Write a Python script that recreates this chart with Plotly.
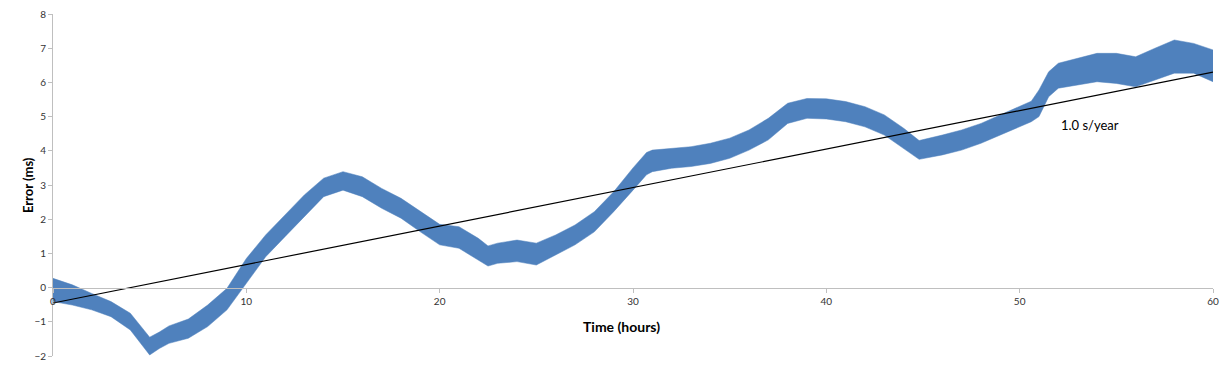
import plotly.graph_objects as go

# Hours and the upper / lower edges of the oscillating error band (ms)
hours = [0, 1, 2, 3, 4, 5, 5.5, 6, 7, 8, 9, 10, 11, 12, 13, 14, 15, 16, 17, 18, 19, 20,
         21, 22, 22.5, 23, 24, 25, 26, 27, 28, 29, 30, 30.7, 31, 32, 33, 34, 35, 36, 37,
         38, 39, 40, 41, 42, 43, 44, 44.8, 46, 47, 48, 49, 50, 50.6, 51, 51.5, 52, 53,
         54, 55, 56, 57, 58, 59, 60]
upper = [0.27, 0.08, -0.17, -0.41, -0.75, -1.45, -1.3, -1.12, -0.92, -0.51, -0.02, 0.85,
         1.54, 2.12, 2.71, 3.2, 3.39, 3.24, 2.9, 2.61, 2.22, 1.85,
         1.78, 1.44, 1.22, 1.3, 1.39, 1.3, 1.54, 1.83, 2.22, 2.8, 3.5, 3.95, 4.02, 4.07,
         4.12, 4.22, 4.37, 4.61, 4.95,
         5.39, 5.53, 5.52, 5.44, 5.29, 5.05, 4.66, 4.3, 4.46, 4.61, 4.8, 5.05, 5.29, 5.45,
         5.78, 6.31, 6.56, 6.7,
         6.85, 6.85, 6.75, 7.0, 7.24, 7.14, 6.95]
lower = [-0.41, -0.51, -0.65, -0.85, -1.24, -1.97, -1.78, -1.63, -1.48, -1.14, -0.65, 0.12,
         0.9, 1.49, 2.07, 2.66, 2.85, 2.66, 2.32, 2.03, 1.63, 1.25,
         1.15, 0.81, 0.63, 0.71, 0.76, 0.66, 0.95, 1.25, 1.63, 2.22, 2.85, 3.3, 3.39, 3.49,
         3.54, 3.63, 3.78, 4.02, 4.32,
         4.8, 4.95, 4.93, 4.85, 4.7, 4.46, 4.07, 3.75, 3.88, 4.02, 4.22, 4.46, 4.7, 4.85,
         5.0, 5.58, 5.83, 5.92,
         6.02, 5.97, 5.87, 6.07, 6.27, 6.27, 6.02]

# Linear trend (1.0 s/year)
trend_x = [0, 60]
trend_y = [-0.45, 6.3]

x_ticks = [0, 10, 20, 30, 40, 50, 60]
y_ticks = [-2, -1, 0, 1, 2, 3, 4, 5, 6, 7, 8]

band_color = "#4f81bd"
font_family = "Lato, 'Open Sans', sans-serif"

fig = go.Figure()
fig.add_trace(go.Scatter(x=hours, y=lower, mode="lines", line=dict(width=0.5, color=band_color),
                         showlegend=False, hoverinfo="skip"))
fig.add_trace(go.Scatter(x=hours, y=upper, mode="lines", line=dict(width=0.5, color=band_color),
                         fill="tonexty", fillcolor=band_color, showlegend=False))
fig.add_trace(go.Scatter(x=trend_x, y=trend_y, mode="lines", line=dict(width=1.2, color="black"),
                         showlegend=False))

fig.add_annotation(x=53.65, y=4.75, text="1.0 s/year", showarrow=False,
                   xanchor="center", yanchor="middle",
                   font=dict(family=font_family, size=13, color="black"))

# axis titles as annotations for exact placement
fig.add_annotation(xref="paper", yref="paper", x=0.4905, y=0.0848, text="<b>Time (hours)</b>",
                   showarrow=False, xanchor="center", yanchor="middle",
                   font=dict(family=font_family, size=14, color="black"))
fig.add_annotation(xref="paper", yref="paper", x=-0.0215, y=0.5, text="<b>Error (ms)</b>",
                   textangle=-90, showarrow=False, xanchor="center", yanchor="middle",
                   font=dict(family=font_family, size=13, color="black"))

# page body has an 8px default margin, so the figure is sized to fit inside it
fig.update_layout(
    width=1215, height=373,
    margin=dict(l=45, r=10, t=6, b=25),
    paper_bgcolor="white", plot_bgcolor="white",
    font=dict(family=font_family, color="#333333"),
    xaxis=dict(range=[0, 60], tickvals=x_ticks, showgrid=False, zeroline=False,
               showline=True, linecolor="#bfbfbf", linewidth=1,
               ticks="outside", ticklen=4, tickcolor="#bfbfbf",
               tickfont=dict(size=10, color="#333333"),
               anchor="free", position=0.2, automargin=False,
               ticklabeloverflow="allow"),
    yaxis=dict(range=[-2, 8], tickvals=y_ticks, showgrid=False, zeroline=False,
               showline=True, linecolor="#bfbfbf", linewidth=1,
               ticks="outside", ticklen=4, tickcolor="#bfbfbf",
               tickfont=dict(size=10, color="#333333"), automargin=False,
               ticklabeloverflow="allow"),
)

fig.write_html("out.html")
